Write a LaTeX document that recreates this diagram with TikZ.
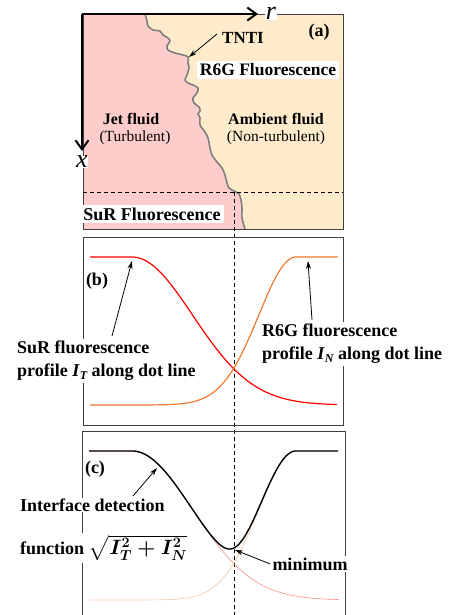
\documentclass[tikz,border=0pt]{standalone}
\usepackage{fontspec}
\setmainfont{Liberation Serif}
\usetikzlibrary{arrows.meta}
\definecolor{pinkf}{RGB}{255,204,204}
\definecolor{beigef}{RGB}{253,235,204}
\definecolor{bord}{RGB}{64,64,64}
\definecolor{curR}{RGB}{255,0,0}
\definecolor{curO}{RGB}{237,125,49}
\definecolor{ifc}{RGB}{128,128,128}
\newcommand\Ivar[1]{\textbf{\textit{I}}\raisebox{-0.35ex}{\fontsize{12}{12}\selectfont\bfseries\itshape #1}}
\newcommand\sqfun{{\fontsize{20}{24}\selectfont\ensuremath{\boldsymbol{\sqrt{I_T^2+I_N^2}}}}}
\usepackage{amsmath}
\begin{document}
\begin{tikzpicture}[x=1pt,y=-1pt,
  declare function={gT(\t)=exp(-min(((\t-132)/85.8)*((\t-132)/85.8),12));
                    gN(\t)=exp(-min(((296-\t)/52.7)*((296-\t)/52.7),12));},
  big/.style={font=\fontsize{18}{23}\selectfont\bfseries, inner sep=2pt},
  midlab/.style={font=\fontsize{16}{19}\selectfont\bfseries, inner sep=1pt},
  reglab/.style={font=\fontsize{15.5}{18}\selectfont, inner sep=1pt},
  axlab/.style={font=\fontsize{26}{26}\selectfont\itshape, fill=white, inner sep=0.5pt},
  whitebox/.style={fill=white, inner xsep=3pt, inner ysep=3pt},
  border/.style={draw=bord, line width=0.9pt},
  axis/.style={line width=2pt, -{Straight Barb[length=9pt,width=13pt,line width=2pt]}},
  ann/.style={line width=0.8pt, -{Stealth[length=8pt,width=5pt]}},
  dashln/.style={line width=1pt, dash pattern=on 4pt off 3pt},
  iface/.style={draw=ifc, line width=1.6pt}]
\useasboundingbox (0,0) rectangle (459,615);

% ---------- panel (a) ----------
\fill[beigef] (83,14) rectangle (343,229);
\fill[pinkf] (83,14) -- plot[smooth, tension=0.5] coordinates {(145,14) (147,21) (148,26) (153,30) (160,31) (163,35) (168,38) (170,41) (167,46) (168,50) (175,53) (183,55) (188,57) (188,63) (189,68) (187,75) (185,80) (188,83) (193,85) (198,88) (197,93) (193,98) (194,103) (199,107) (200,111) (198,114) (200,118) (200,125) (205,132) (208,138) (210,148) (212,155) (217,162) (222,168) (225,175) (227,183) (229,188) (234,191) (239,194) (241,200) (242,208) (242,218) (245,229)} -- (83,229) -- cycle;
\draw[iface] plot[smooth, tension=0.5] coordinates {(145,14) (147,21) (148,26) (153,30) (160,31) (163,35) (168,38) (170,41) (167,46) (168,50) (175,53) (183,55) (188,57) (188,63) (189,68) (187,75) (185,80) (188,83) (193,85) (198,88) (197,93) (193,98) (194,103) (199,107) (200,111) (198,114) (200,118) (200,125) (205,132) (208,138) (210,148) (212,155) (217,162) (222,168) (225,175) (227,183) (229,188) (234,191) (239,194) (241,200) (242,208) (242,218) (245,229)};
\draw[border] (83,14) rectangle (343,229);

\coordinate (origin) at (82,14);
\coordinate (rend) at (258,14);
\coordinate (xend) at (82,151);
\draw[axis] (origin) -- (rend);
\draw[axis] (origin) -- (xend);
\node[axlab] (rlab) at (271,13) {r};
\node[axlab] (xlab) at (82,162) {x};

\coordinate (hl) at (83,192);
\coordinate (hr) at (343,192);
\coordinate (vb) at (234,615);
\coordinate (vt) at (234,192);
\draw[dashln] (hl) -- (hr);
\draw[dashln] (vt) -- (vb);

\node[big] (pa) at (319,32) {(a)};
\node[font=\fontsize{17}{20}\selectfont\bfseries, inner sep=1pt] (tnti) at (243,38) {TNTI};
\coordinate (tntiA) at (217,34);
\coordinate (tntiB) at (189,57);
\draw[ann] (tntiA) -- (tntiB);
\node[big, whitebox, font=\fontsize{17.5}{21}\selectfont\bfseries] (r6g) at (268,70) {R6G Fluorescence};
\node[midlab] (jet) at (131,119) {Jet fluid};
\node[reglab] (turb) at (135,138) {(Turbulent)};
\node[midlab] (amb) at (276,119) {Ambient fluid};
\node[reglab] (nonturb) at (276,138) {(Non-turbulent)};
\node[big, whitebox] (sur) at (152,214) {SuR Fluorescence};

% ---------- panel (b) ----------
\draw[border] (83,237) rectangle (343,425);
\draw[curR, line width=1.2pt] (90,257) -- (132,257) -- plot[domain=132:337, samples=70, smooth] (\x,{405-148*gT(\x)});
\draw[curO, line width=1.2pt] (90,405) -- (150,405) -- plot[domain=150:296, samples=70, smooth] (\x,{405-148*gN(\x)}) -- (338,257);
\node[big] (pb) at (97,281) {(b)};
\node[big, fill=white, align=left, anchor=west] (surlab) at (15,361) {SuR fluorescence\\profile \Ivar{T} along dot line};
\node[big, fill=white, align=left, anchor=west] (r6glab) at (260,344) {R6G fluorescence\\profile \Ivar{N} along dot line};
\coordinate (surA) at (112,336);
\coordinate (surB) at (132,261);
\coordinate (r6gA) at (312,320);
\coordinate (r6gB) at (308,261);
\draw[ann] (surA) -- (surB);
\draw[ann] (r6gA) -- (r6gB);

% ---------- panel (c) ----------
\coordinate (cbl) at (82,615);
\coordinate (ctl) at (82,431);
\coordinate (ctr) at (345,431);
\coordinate (cbr) at (345,615);
\draw[border] (cbl) -- (ctl) -- (ctr) -- (cbr);
\draw[red!45, line width=0.6pt] (90,451) -- (132,451) -- plot[domain=132:338, samples=70, smooth] (\x,{600-149*gT(\x)});
\draw[curO!45, line width=0.6pt] (90,600) -- plot[domain=90:296, samples=70, smooth] (\x,{600-149*gN(\x)}) -- (338,451);
\draw[black, line width=1.4pt] (89,451) -- (132,451) -- plot[domain=132:296, samples=90, smooth] (\x,{600-149*sqrt(gT(\x)*gT(\x)+gN(\x)*gN(\x))}) -- (338,451);
\node[big] (pc) at (95,469) {(c)};
\node[big, fill=white, anchor=west, inner ysep=2pt] (ifd2) at (18,548) {function \sqfun};
\node[big, fill=white, anchor=west, inner ysep=1pt] (ifd1) at (18,505) {Interface detection};
\node[big, fill=white] (minlab) at (310,564) {minimum};
\coordinate (ifdA) at (133,496);
\coordinate (ifdB) at (157,468);
\coordinate (minB) at (235,550);
\draw[ann] (ifdA) -- (ifdB);
\draw[ann] (minlab.west) -- (minB);
\end{tikzpicture}
\end{document}
